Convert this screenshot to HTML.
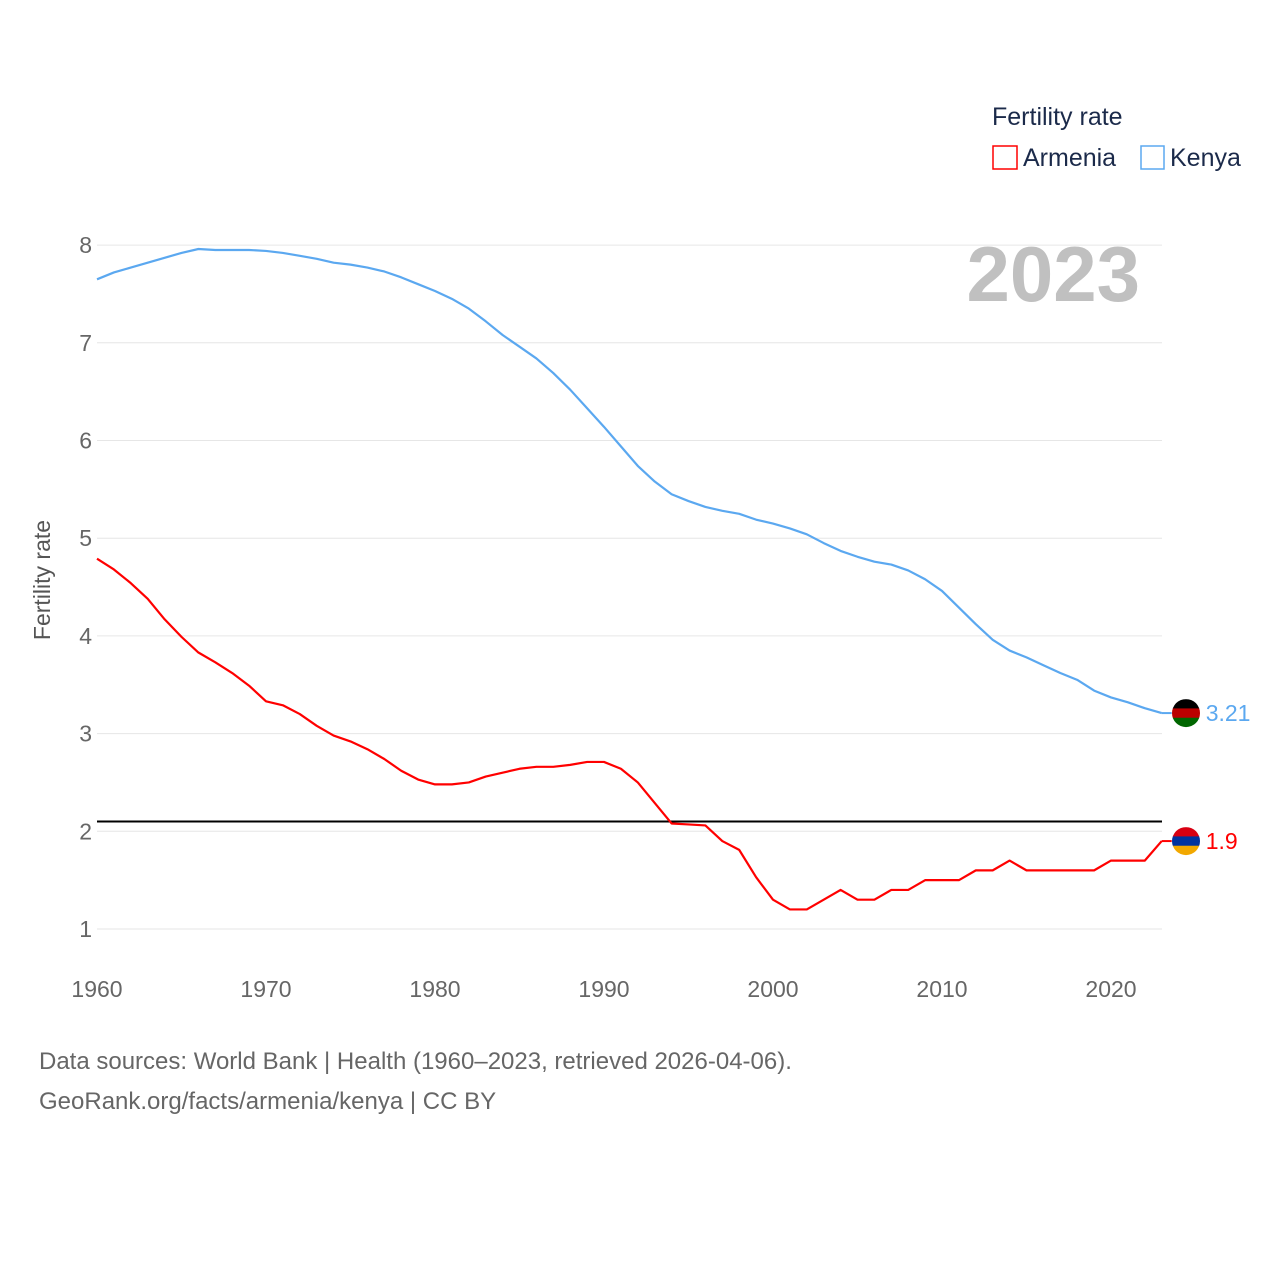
<!DOCTYPE html>
<html><head><meta charset="utf-8"><style>
body{margin:0;background:#fff;font-family:"Liberation Sans",sans-serif}
svg text{font-family:"Liberation Sans",sans-serif}
</style></head><body>
<svg id="c" width="1280" height="1280" xmlns="http://www.w3.org/2000/svg">
<text x="992" y="125" font-size="25" fill="#1b2a4a">Fertility rate</text>
<g><rect x="993" y="146" width="24" height="23" fill="none" stroke="#f00" stroke-width="1.5"/><text x="1023" y="166" font-size="25" fill="#1b2a4a">Armenia</text></g>
<g><rect x="1141" y="146" width="23" height="23" fill="none" stroke="#5ba8f0" stroke-width="1.5"/><text x="1170" y="166" font-size="25" fill="#1b2a4a">Kenya</text></g>
<text x="1140" y="301" font-size="78" font-weight="bold" fill="#c0c0c0" text-anchor="end">2023</text>
<text transform="translate(50,580) rotate(-90)" font-size="23" fill="#555" text-anchor="middle">Fertility rate</text>
<g id="grid"></g><g id="lines"></g>
<text x="39" y="1069" font-size="24" fill="#666">Data sources: World Bank | Health (1960–2023, retrieved 2026-04-06).</text>
<text x="39" y="1109" font-size="24" fill="#666">GeoRank.org/facts/armenia/kenya | CC BY</text>
</svg>
<script>
const years=[];for(let y=1960;y<=2023;y++)years.push(y);
const armenia=[4.79,4.68,4.54,4.38,4.17,3.99,3.83,3.73,3.62,3.49,3.33,3.29,3.20,3.08,2.98,2.92,2.84,2.74,2.62,2.53,2.48,2.48,2.50,2.56,2.60,2.64,2.66,2.66,2.68,2.71,2.71,2.64,2.50,2.29,2.08,2.07,2.06,1.90,1.81,1.53,1.30,1.20,1.20,1.30,1.40,1.30,1.30,1.40,1.40,1.50,1.50,1.50,1.60,1.60,1.70,1.60,1.60,1.60,1.60,1.60,1.70,1.70,1.70,1.90];
const kenya=[7.65,7.72,7.77,7.82,7.87,7.92,7.96,7.95,7.95,7.95,7.94,7.92,7.89,7.86,7.82,7.80,7.77,7.73,7.67,7.60,7.53,7.45,7.35,7.22,7.08,6.96,6.84,6.69,6.52,6.33,6.14,5.94,5.74,5.58,5.45,5.38,5.32,5.28,5.25,5.19,5.15,5.10,5.04,4.95,4.87,4.81,4.76,4.73,4.67,4.58,4.46,4.29,4.12,3.96,3.85,3.78,3.70,3.62,3.55,3.44,3.37,3.32,3.26,3.21];
const yTicks=[1,2,3,4,5,6,7,8];
const xTicks=[1960,1970,1980,1990,2000,2010,2020];
const replacement=2.1;
const X=y=>97+(y-1960)*16.9, Y=v=>929-(v-1)*97.7;
const NS="http://www.w3.org/2000/svg";
const g=document.getElementById('grid'),L=document.getElementById('lines');
function mk(t,a,p){const e=document.createElementNS(NS,t);for(const k in a)e.setAttribute(k,a[k]);p.appendChild(e);return e;}
yTicks.forEach(v=>{
 const l=mk('line',{x1:97,x2:1162,y1:Y(v),y2:Y(v),stroke:'#e6e6e6','stroke-width':1},g);
 
 
 const t=mk('text',{x:92,y:Y(v)+8,'font-size':23,fill:'#666','text-anchor':'end'},g);t.textContent=v;
 
 
});
xTicks.forEach(v=>{
 const t=mk('text',{x:X(v),y:997,'font-size':23,fill:'#666','text-anchor':'middle'},g);t.textContent=v;
 
 
});
const r=mk('line',{x1:97,x2:1162,y1:Y(replacement),y2:Y(replacement),stroke:'#000','stroke-width':2},L);


function series(d,c,n){
 const p=mk('polyline',{points:d.map((v,i)=>X(years[i])+','+Y(v)).join(' '),fill:'none',stroke:c,'stroke-width':2.2,'stroke-linejoin':'round'},L);
 
 
 const last=d[d.length-1],lx=X(years[years.length-1]);
 mk('line',{x1:lx,x2:lx+10,y1:Y(last),y2:Y(last),stroke:c,'stroke-width':2},L);
 const t=mk('text',{x:lx+44,y:Y(last)+8,'font-size':23,fill:c},L);t.textContent=last;
 
 
 return Y(last);
}
const ya=series(armenia,'#ff0000','armenia');
const yk=series(kenya,'#5ba8f0','kenya');
const cx=1186;
function flag(cy,cols,n){
 const grp=mk('g',{},L);
 
 
 const id='clip'+n;const cp=mk('clipPath',{id:id},grp);mk('circle',{cx:cx,cy:cy,r:14},cp);
 const inner=mk('g',{'clip-path':'url(#'+id+')'},grp);
 cols.forEach((c,i)=>mk('rect',{x:cx-14,y:cy-14+i*28/cols.length,width:28,height:28/cols.length+0.5,fill:c},inner));
}
flag(ya,['#d90012','#0033a0','#f2a800'],'armenia');
flag(yk,['#000','#bb0000','#006600'],'kenya');
</script>
</body></html>
